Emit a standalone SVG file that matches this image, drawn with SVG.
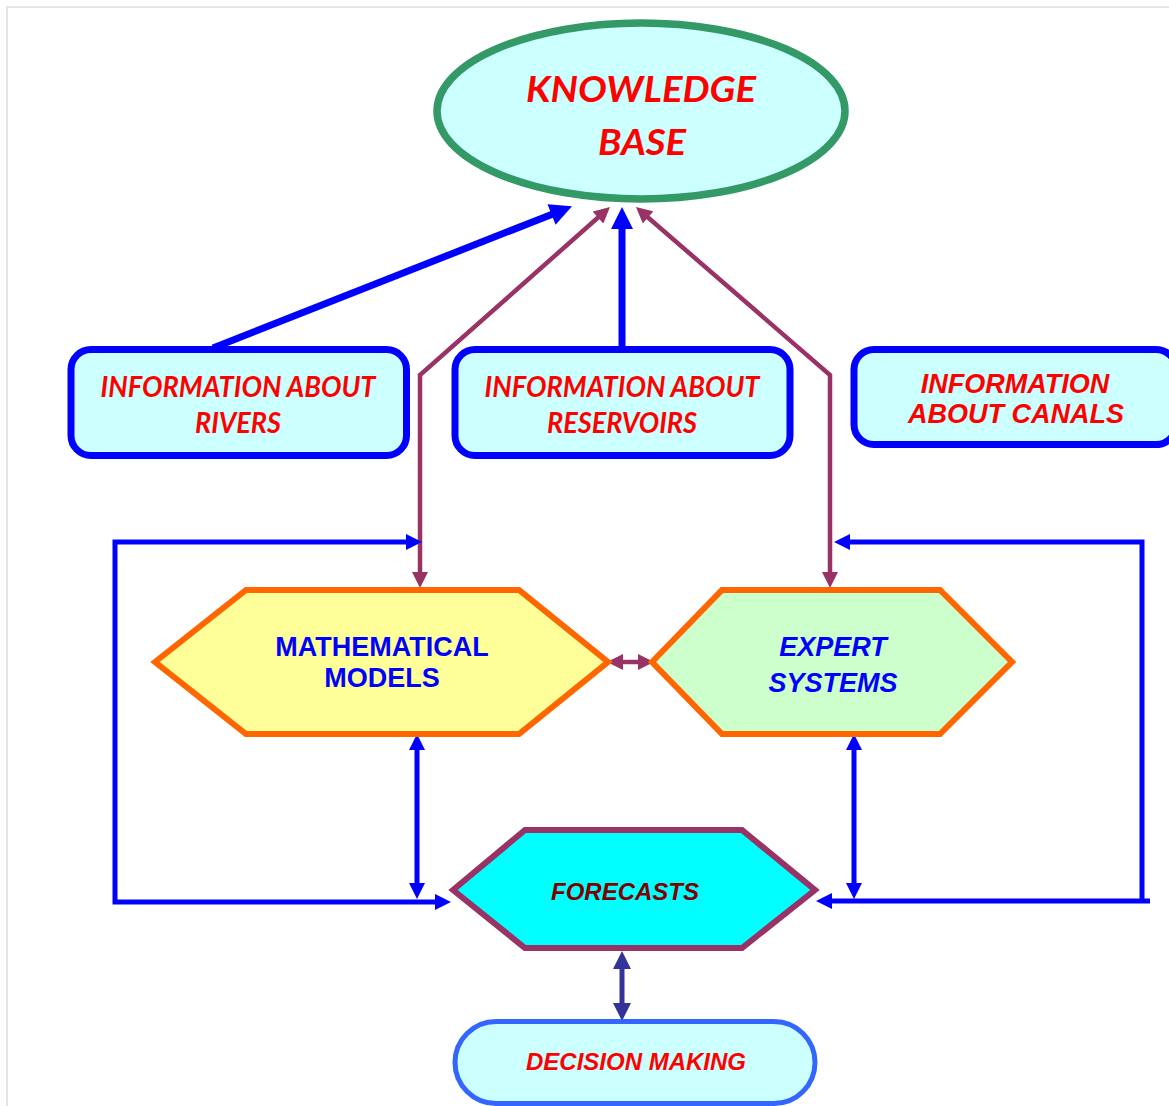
<svg xmlns="http://www.w3.org/2000/svg" width="1169" height="1106" viewBox="0 0 1169 1106">
<style>
.frame{fill:none;stroke:#e6e6e6;stroke-width:2}
.box{fill:#ccffff;stroke:#0000ff;stroke-width:7}
.hexo{stroke:#ff6600;stroke-width:6;stroke-linejoin:miter}
.t1{font-family:Lato,"Open Sans","Liberation Sans",sans-serif;font-weight:bold;font-style:italic;fill:#ff0000;text-anchor:middle}
.t2{font-family:"Liberation Sans",Arial,sans-serif;font-weight:bold;text-anchor:middle}
.blueT{stroke:#0000ff;stroke-width:7;fill:none}
.blueS{stroke:#0000ff;stroke-width:5;fill:none}
.purp{stroke:#993366;stroke-width:4.5;fill:none}
.navy{stroke:#333399;stroke-width:5;fill:none}
</style>
<defs>
<marker id="mBlueL" viewBox="0 0 10 10" refX="5" refY="5" markerUnits="userSpaceOnUse" markerWidth="24" markerHeight="22" orient="auto-start-reverse"><path d="M0,0 L10,5 L0,10 z" fill="#0000ff"/></marker>
<marker id="mBlueS" viewBox="0 0 10 10" refX="5" refY="5" markerUnits="userSpaceOnUse" markerWidth="18" markerHeight="16" orient="auto-start-reverse"><path d="M0,0 L10,5 L0,10 z" fill="#0000ff"/></marker>
<marker id="mPurp" viewBox="0 0 10 10" refX="5" refY="5" markerUnits="userSpaceOnUse" markerWidth="17" markerHeight="16" orient="auto-start-reverse"><path d="M0,0 L10,5 L0,10 z" fill="#993366"/></marker>
<marker id="mNavy" viewBox="0 0 10 10" refX="5" refY="5" markerUnits="userSpaceOnUse" markerWidth="18" markerHeight="18" orient="auto-start-reverse"><path d="M0,0 L10,5 L0,10 z" fill="#333399"/></marker>
</defs>

<path class="frame" d="M7,1106 V7 H1169"/>

<g id="connectors">
<line class="blueT" x1="213" y1="348" x2="561.8" y2="210.4" marker-end="url(#mBlueL)"/>
<line class="blueT" x1="622" y1="347" x2="622" y2="218" marker-end="url(#mBlueL)"/>
<path class="purp" d="M604,212.3 L420,375 L420,580" marker-start="url(#mPurp)" marker-end="url(#mPurp)"/>
<path class="purp" d="M642,212.2 L830,375 L830,580" marker-start="url(#mPurp)" marker-end="url(#mPurp)"/>
<line class="purp" x1="615" y1="662" x2="646" y2="662" stroke-width="5" marker-start="url(#mPurp)" marker-end="url(#mPurp)"/>
<path class="blueS" d="M414,542 H115 V902 H443" marker-start="url(#mBlueS)" marker-end="url(#mBlueS)"/>
<path class="blueS" d="M842,542 H1142 V901" marker-start="url(#mBlueS)"/>
<line class="blueS" x1="1150" y1="901" x2="824" y2="901" marker-end="url(#mBlueS)"/>
<line class="blueS" x1="417" y1="742" x2="417" y2="891" marker-start="url(#mBlueS)" marker-end="url(#mBlueS)"/>
<line class="blueS" x1="854" y1="742" x2="854" y2="891" marker-start="url(#mBlueS)" marker-end="url(#mBlueS)"/>
<line class="navy" x1="622" y1="960" x2="622" y2="1012" marker-start="url(#mNavy)" marker-end="url(#mNavy)"/>
</g>

<g id="knowledge-base">
<ellipse cx="641" cy="111" rx="204" ry="88" fill="#ccffff" stroke="#339966" stroke-width="7.5"/>
<text class="t1" x="641" y="102" font-size="37" textLength="230" lengthAdjust="spacingAndGlyphs">KNOWLEDGE</text>
<text class="t1" x="642" y="155" font-size="37" textLength="88" lengthAdjust="spacingAndGlyphs">BASE</text>
</g>

<g id="rivers">
<rect class="box" x="71" y="349.5" width="335.5" height="106" rx="20"/>
<text class="t1" x="238" y="397" font-size="28" textLength="275" lengthAdjust="spacingAndGlyphs">INFORMATION ABOUT</text>
<text class="t1" x="238" y="433" font-size="28" textLength="86" lengthAdjust="spacingAndGlyphs">RIVERS</text>
</g>

<g id="reservoirs">
<rect class="box" x="455" y="349.5" width="335" height="106" rx="20"/>
<text class="t1" x="622" y="397" font-size="28" textLength="275" lengthAdjust="spacingAndGlyphs">INFORMATION ABOUT</text>
<text class="t1" x="622" y="433" font-size="28" textLength="150" lengthAdjust="spacingAndGlyphs">RESERVOIRS</text>
</g>

<g id="canals">
<rect class="box" x="854" y="349.5" width="322" height="95" rx="20"/>
<text class="t2" x="1015" y="393" font-size="27" font-style="italic" fill="#ff0000">INFORMATION</text>
<text class="t2" x="1016" y="423" font-size="27" font-style="italic" fill="#ff0000">ABOUT CANALS</text>
</g>

<g id="mathematical-models">
<polygon class="hexo" points="155,662 246,590 519,590 608,662 519,734 246,734" fill="#ffff99"/>
<text class="t2" x="382" y="656" font-size="27" fill="#0000ff">MATHEMATICAL</text>
<text class="t2" x="382" y="687" font-size="27" fill="#0000ff">MODELS</text>
</g>

<g id="expert-systems">
<polygon class="hexo" points="652,662 722,590 940,590 1012,662 940,734 722,734" fill="#ccffcc"/>
<text class="t2" x="833" y="656" font-size="27" font-style="italic" fill="#0000ff">EXPERT</text>
<text class="t2" x="833" y="692" font-size="27" font-style="italic" fill="#0000ff">SYSTEMS</text>
</g>

<g id="forecasts">
<polygon points="453,890 525,830 742,830 815,890 742,948 525,948" fill="#00ffff" stroke="#993366" stroke-width="6"/>
<text class="t2" x="625" y="900" font-size="24" font-style="italic" fill="#800000">FORECASTS</text>
</g>

<g id="decision-making">
<rect x="455" y="1021.5" width="360" height="82" rx="41" fill="#ccffff" stroke="#3366ff" stroke-width="5"/>
<text class="t2" x="636" y="1070" font-size="24" font-style="italic" fill="#ff0000">DECISION MAKING</text>
</g>
</svg>
